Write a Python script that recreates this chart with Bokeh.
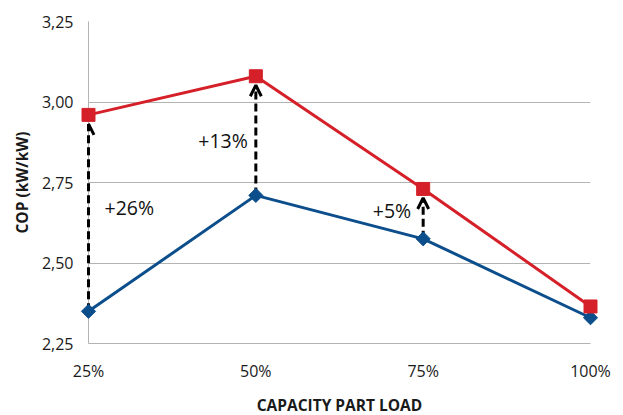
import math
from bokeh.plotting import figure
from bokeh.models import (ColumnDataSource, FixedTicker, CustomJSTickFormatter,
                          Arrow, OpenHead, Range1d)
from bokeh.core.properties import value
from bokeh.embed import file_html
from bokeh.resources import INLINE

# Part-load capacity (%) and COP values of the two units
loads = [25, 50, 75, 100]
load_labels = ["25%", "50%", "75%", "100%"]
cop_base = [2.35, 2.71, 2.575, 2.33]
cop_improved = [2.96, 3.08, 2.73, 2.365]

# Gain annotations at the first three load points
gain_loads = [25, 50, 75]
gain_base = [2.35, 2.71, 2.575]
gain_improved = [2.96, 3.08, 2.73]
gain_text = ["+26%", "+13%", "+5%"]

y_ticks = [2.25, 2.50, 2.75, 3.00, 3.25]

RED = "#d52029"
BLUE = "#0c4e8c"
GRID = "#b3b3b3"
FONT = "Open Sans"

p = figure(width=623, height=415, frame_width=502, frame_height=322,
           output_backend="svg", toolbar_location=None,
           x_range=Range1d(25, 100), y_range=Range1d(2.25, 3.25),
           min_border_left=88, min_border_right=33, min_border_top=21,
           min_border_bottom=72)
p.outline_line_color = None
p.background_fill_color = "white"
p.border_fill_color = "white"

# axes
p.xaxis.ticker = FixedTicker(ticks=loads)
p.xaxis.major_label_overrides = {l: t for l, t in zip(loads, load_labels)}
p.yaxis.ticker = FixedTicker(ticks=y_ticks)
p.yaxis.formatter = CustomJSTickFormatter(code="return tick.toFixed(2).replace('.', ',');")
for ax in (p.xaxis[0], p.yaxis[0]):
    ax.axis_line_color = GRID
    ax.axis_line_width = 1
    ax.major_tick_line_color = None
    ax.minor_tick_line_color = None
    ax.major_tick_out = 0
    ax.major_tick_in = 0
    ax.minor_tick_out = 0
    ax.minor_tick_in = 0
    ax.major_label_text_font = FONT
    ax.major_label_text_font_size = "16px"
    ax.major_label_text_color = "#1a1a1a"
    ax.axis_label_text_font = FONT
    ax.axis_label_text_font_size = "15.5px"
    ax.axis_label_text_font_style = "bold"
    ax.axis_label_text_color = "#1a1a1a"
p.xaxis.axis_label = "CAPACITY PART LOAD"
p.yaxis.axis_label = "COP (kW/kW)"
p.xaxis.major_label_standoff = 16
p.xaxis.axis_label_standoff = 9
p.yaxis.major_label_standoff = 15
p.yaxis.axis_label_standoff = 6

p.xgrid.grid_line_color = None
p.ygrid.ticker = FixedTicker(ticks=y_ticks)
p.ygrid.grid_line_color = GRID
p.ygrid.grid_line_width = 1

# dashed arrows from the base COP to the improved COP:
# the shaft is a dashed segment, the open head comes from an Arrow
arrow_src = ColumnDataSource(dict(
    x=gain_loads, y0=gain_base,
    y1=[v - 0.028 for v in gain_improved],
))
p.segment(x0="x", y0="y0", x1="x", y1="y1", source=arrow_src,
          line_color="black", line_width=3, line_dash="8 4", level="overlay")
p.add_layout(Arrow(source=arrow_src, x_start="x", y_start="y0", x_end="x", y_end="y1",
                   line_alpha=0, line_width=3,
                   end=OpenHead(size=11, line_color="black", line_width=3),
                   level="overlay"))

# series (drawn on the overlay level so edge markers are not cut by the frame)
src = ColumnDataSource(dict(x=loads, base=cop_base, imp=cop_improved))
p.line("x", "base", source=src, line_color=BLUE, line_width=3, level="overlay")
p.scatter("x", "base", source=src, marker="square", size=10, angle=math.pi / 4,
          fill_color=BLUE, line_color=BLUE, level="overlay")
p.line("x", "imp", source=src, line_color=RED, line_width=3, level="overlay")
p.scatter("x", "imp", source=src, marker="square", size=13,
          fill_color=RED, line_color=RED, level="overlay")

# gain labels beside each arrow
lab_src = ColumnDataSource(dict(
    x=gain_loads,
    y=[(a + b) / 2 for a, b in zip(gain_base, gain_improved)],
    text=gain_text,
    align=["left", "right", "right"],
    dx=[16, -8, -12],
    dy=[-6, 5, -3],
))
p.text("x", "y", text="text", source=lab_src, text_align="align",
       text_baseline="middle", x_offset="dx", y_offset="dy",
       text_font=value(FONT), text_font_size="19.5px",
       text_color="#111111", level="overlay")

open("out.html", "w").write(file_html(p, INLINE))
